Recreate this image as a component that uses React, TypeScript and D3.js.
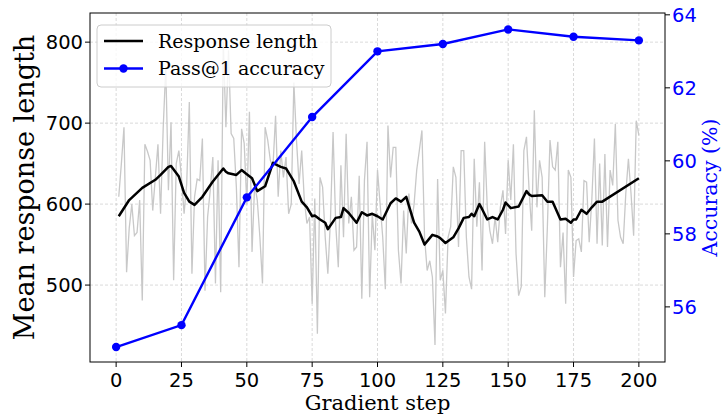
import React from "react";
import * as d3 from "d3";

// Raw mean response length per gradient step (steps 1..200)
const rawLengths: number[] = [
  609, 650, 695, 516, 570, 600, 561, 565, 605, 481,
  674, 665, 654, 592, 633, 674, 588, 693, 770, 617,
  701, 506, 650, 666, 633, 588, 625, 726, 514, 609,
  631, 629, 681, 493, 584, 617, 658, 502, 654, 491,
  800, 695, 790, 687, 681, 621, 522, 693, 675, 600,
  714, 541, 625, 605, 559, 502, 695, 679, 654, 646,
  709, 609, 666, 633, 658, 588, 600, 750, 679, 625,
  666, 605, 576, 584, 477, 607, 440, 633, 621, 559,
  514, 580, 689, 576, 522, 648, 559, 687, 576, 609,
  543, 547, 635, 483, 629, 677, 485, 588, 543, 642,
  600, 559, 495, 697, 633, 670, 670, 543, 502, 592,
  539, 613, 576, 600, 642, 666, 691, 559, 518, 530,
  510, 426, 631, 506, 518, 465, 559, 572, 646, 633,
  547, 666, 666, 559, 510, 495, 656, 572, 627, 518,
  677, 596, 567, 551, 584, 553, 596, 617, 563, 654,
  605, 674, 539, 487, 498, 666, 683, 617, 567, 716,
  596, 654, 633, 485, 572, 679, 646, 642, 677, 522,
  565, 477, 642, 633, 510, 555, 557, 541, 629, 627,
  553, 605, 681, 551, 650, 549, 662, 547, 642, 623,
  699, 580, 559, 551, 613, 656, 613, 561, 703, 685,
];

// Smoothed response length
const smoothSteps: number[] = [
  1, 5, 10, 15, 17, 20, 21, 24, 26, 28, 30, 33, 37, 41, 42, 43, 46, 48, 50, 52,
  54, 57, 60, 61, 63, 65, 68, 71, 73, 75, 76, 78, 80, 81, 84, 86, 87, 89, 92, 94,
  96, 98, 100, 102, 105, 107, 109, 111, 112, 114, 116, 118, 121, 123, 124, 126, 129, 131, 133, 135,
  136, 137, 139, 140, 142, 144, 146, 148, 149, 151, 154, 157, 158, 159, 163, 165, 167, 170, 172, 174,
  175, 176, 178, 180, 182, 184, 186, 200,
];
const smoothValues: number[] = [
  585, 605, 620, 630, 636, 646, 647, 634, 614, 603, 599, 609, 628, 644, 640, 638, 636, 642, 637, 632,
  616, 622, 651, 649, 646, 644, 628, 603, 596, 585, 586, 581, 577, 569, 583, 584, 595, 589, 577, 590,
  586, 588, 585, 581, 601, 607, 603, 609, 598, 577, 566, 550, 562, 560, 558, 552, 559, 570, 583, 584,
  588, 585, 600, 594, 581, 584, 581, 593, 602, 595, 597, 616, 612, 610, 611, 603, 603, 581, 582, 577,
  581, 581, 593, 588, 596, 603, 603, 632,
];

// Pass@1 accuracy
const accSteps: number[] = [0, 25, 50, 75, 100, 125, 150, 175, 200];
const accValues: number[] = [54.9, 55.5, 59.0, 61.2, 63.0, 63.2, 63.6, 63.4, 63.3];

const xTicks: number[] = [0, 25, 50, 75, 100, 125, 150, 175, 200];
const yLeftTicks: number[] = [500, 600, 700, 800];
const yRightTicks: number[] = [56, 58, 60, 62, 64];

const legendLabels: string[] = ["Response length", "Pass@1 accuracy"];

const W = 722;
const H = 417;
const M = { left: 90, right: 665, top: 13, bottom: 362 };
const SERIF = "'DejaVu Serif', serif";
const SANS = "'DejaVu Sans', sans-serif";
const BLUE = "#0000ff";

export default function App() {
  const x = d3.scaleLinear().domain([-10, 210]).range([M.left, M.right]);
  const yL = d3.scaleLinear().domain([405, 836]).range([M.bottom, M.top]);
  const yR = d3.scaleLinear().domain([54.49, 64.05]).range([M.bottom, M.top]);

  const rawLine = d3
    .line<number>()
    .x((_, i) => x(i + 1))
    .y((d) => yL(d));
  const smoothLine = d3
    .line<number>()
    .x((_, i) => x(smoothSteps[i]))
    .y((d) => yL(d));
  const accLine = d3
    .line<number>()
    .x((_, i) => x(accSteps[i]))
    .y((d) => yR(d));

  return (
    <div style={{ position: "absolute", left: 0, top: 0 }}>
      <svg width={W} height={H} style={{ display: "block", background: "#fff" }}>
        <defs>
          <clipPath id="plot">
            <rect x={M.left} y={M.top} width={M.right - M.left} height={M.bottom - M.top} />
          </clipPath>
        </defs>
        {/* grid */}
        {xTicks.map((t) => (
          <line key={"gx" + t} x1={x(t)} x2={x(t)} y1={M.top} y2={M.bottom}
            stroke="#b0b0b0" strokeOpacity={0.6} strokeWidth={0.8} strokeDasharray="3,2" />
        ))}
        {yLeftTicks.map((t) => (
          <line key={"gy" + t} x1={M.left} x2={M.right} y1={yL(t)} y2={yL(t)}
            stroke="#b0b0b0" strokeOpacity={0.6} strokeWidth={0.8} strokeDasharray="3,2" />
        ))}
        <g clipPath="url(#plot)">
          <path d={rawLine(rawLengths) || ""} fill="none" stroke="#c8c8c8" strokeWidth={1.3} />
          <path d={smoothLine(smoothValues) || ""} fill="none" stroke="#000" strokeWidth={2.5} strokeLinejoin="round" />
          <path d={accLine(accValues) || ""} fill="none" stroke={BLUE} strokeWidth={2.4} />
          {accValues.map((v, i) => (
            <circle key={"m" + i} cx={x(accSteps[i])} cy={yR(v)} r={4.2} fill={BLUE} />
          ))}
        </g>
        {/* spines */}
        <rect x={M.left} y={M.top} width={M.right - M.left} height={M.bottom - M.top}
          fill="none" stroke="#000" strokeWidth={1} />
        {/* x ticks */}
        {xTicks.map((t) => (
          <g key={"xt" + t}>
            <line x1={x(t)} x2={x(t)} y1={M.bottom} y2={M.bottom + 5} stroke="#000" />
            <text x={x(t)} y={M.bottom + 24.5} textAnchor="middle" fontFamily={SANS} fontSize={19.5}>{t}</text>
          </g>
        ))}
        {/* left ticks */}
        {yLeftTicks.map((t) => (
          <g key={"yl" + t}>
            <line x1={M.left - 5} x2={M.left} y1={yL(t)} y2={yL(t)} stroke="#000" />
            <text x={M.left - 7} y={yL(t) + 7} textAnchor="end" fontFamily={SANS} fontSize={19.5}>{t}</text>
          </g>
        ))}
        {/* right ticks */}
        {yRightTicks.map((t) => (
          <g key={"yr" + t}>
            <line x1={M.right} x2={M.right + 5} y1={yR(t)} y2={yR(t)} stroke="#000" />
            <text x={M.right + 7} y={yR(t) + 7} textAnchor="start" fontFamily={SANS} fontSize={19.5} fill={BLUE}>{t}</text>
          </g>
        ))}
        {/* axis labels */}
        <text x={(M.left + M.right) / 2} y={410} textAnchor="middle" fontFamily={SERIF} fontSize={21}>Gradient step</text>
        <text transform={`translate(34,${(M.top + M.bottom) / 2}) rotate(-90)`} textAnchor="middle" fontFamily={SERIF} fontSize={27}>Mean response length</text>
        <text transform={`translate(717,${(M.top + M.bottom) / 2}) rotate(-90)`} textAnchor="middle" fontFamily={SERIF} fontSize={20.5} fill={BLUE}>Accuracy (%)</text>
        {/* legend */}
        <rect x={97} y={25} width={234} height={62} rx={4} fill="#fff" fillOpacity={0.8} stroke="#cccccc" strokeWidth={1} />
        <line x1={104} x2={143} y1={41} y2={41} stroke="#000" strokeWidth={2.5} />
        <text x={158} y={47.5} fontFamily={SERIF} fontSize={19}>{legendLabels[0]}</text>
        <line x1={104} x2={143} y1={68.5} y2={68.5} stroke={BLUE} strokeWidth={2.4} />
        <circle cx={123.5} cy={68.5} r={4.2} fill={BLUE} />
        <text x={158} y={75} fontFamily={SERIF} fontSize={19}>{legendLabels[1]}</text>
      </svg>
    </div>
  );
}
